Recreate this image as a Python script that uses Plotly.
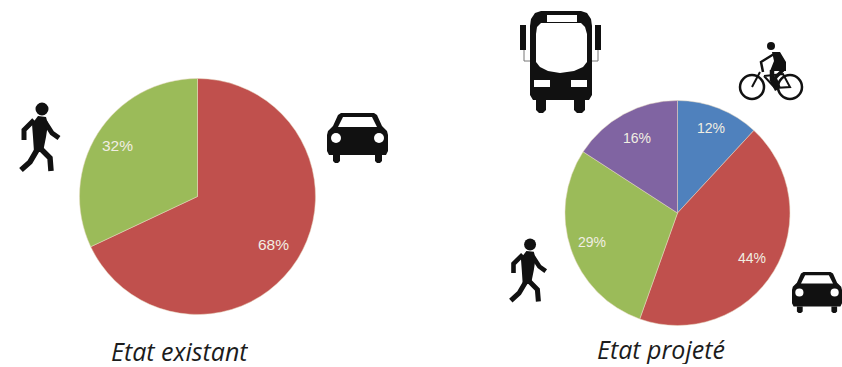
import math
import plotly.graph_objects as go

W, H = 842, 367

# Modal split, in percent
existing_modes = ["Voiture", "Marche"]
existing_values = [68, 32]
existing_colors = ["#c0504d", "#9bbb59"]

projected_modes = ["Vélo", "Voiture", "Marche", "Bus"]
projected_values = [12, 44, 29, 16]
projected_colors = ["#4f81bd", "#c0504d", "#9bbb59", "#8064a2"]

titles = ["Etat existant", "Etat projeté"]

INK = "#111111"
PAPER = "#ffffff"


def pie_domain(cx, cy, r):
    return dict(x=[(cx - r) / W, (cx + r) / W], y=[1 - (cy + r) / H, 1 - (cy - r) / H])


def pie_labels(values, cx, cy, r, fractions, size):
    """Percent labels placed on each slice's bisector, going clockwise from 12 o'clock."""
    total = sum(values)
    notes, run = [], 0
    for v, fraction in zip(values, fractions):
        angle = 2 * math.pi * (run + v / 2) / total
        run += v
        notes.append(dict(
            x=cx + fraction * r * math.sin(angle), y=cy - fraction * r * math.cos(angle),
            xref="x", yref="y", text=f"{v}%", showarrow=False,
            font=dict(family="Liberation Sans", size=size, color="#f1eee2"),
        ))
    return notes


def poly(points, fill=None, width=0, color=INK, close=True):
    d = "M " + " L ".join(f"{x:.1f},{y:.1f}" for x, y in points) + (" Z" if close else "")
    return dict(type="path", path=d, xref="x", yref="y", layer="above",
                fillcolor=fill if fill else "rgba(0,0,0,0)",
                line=dict(color=color, width=width))


def disc(cx, cy, r, fill=INK, width=0, color=INK):
    return dict(type="circle", x0=cx - r, x1=cx + r, y0=cy - r, y1=cy + r,
                xref="x", yref="y", layer="above", fillcolor=fill,
                line=dict(color=color, width=width))


def car(ox, oy, s=1.0):
    t = lambda pts: [(ox + s * x, oy + s * y) for x, y in pts]
    return [
        poly(t([(6, 42), (13, 42), (13, 48), (11, 50), (8, 50), (6, 48)]), INK),
        poly(t([(48, 42), (55, 42), (55, 48), (53, 50), (50, 50), (48, 48)]), INK),
        poly(t([(14, 0), (47, 0), (50, 2), (55, 13), (60, 18), (61, 22), (61, 38), (59, 42),
                (2, 42), (0, 38), (0, 22), (1, 18), (6, 13), (11, 2)]), INK),
        poly(t([(16, 4), (45, 4), (50, 14), (11, 14)]), PAPER),
        disc(ox + s * 9, oy + s * 25, s * 5, PAPER),
        disc(ox + s * 52, oy + s * 25, s * 5, PAPER),
    ]


def walker(ox, oy, s=1.0):
    t = lambda pts: [(ox + s * x, oy + s * y) for x, y in pts]
    w = lambda v: v * s
    return [
        disc(ox + s * 24, oy + s * 7, s * 6.5),
        poly(t([(20, 14), (28, 15), (30, 22), (28, 35), (25, 50), (16, 50), (15, 35), (14, 22)]), INK),
        poly(t([(16, 18), (6, 28), (6, 38)]), width=w(5), close=False),
        poly(t([(27, 20), (34, 31), (41, 36)]), width=w(5), close=False),
        poly(t([(19, 48), (12, 60), (3, 68)]), width=w(5.5), close=False),
        poly(t([(23, 47), (32, 56), (33, 69)]), width=w(5.5), close=False),
    ]


def bus():
    return [
        poly([(524, 50), (524, 61), (531, 61)], width=1, color="#777777", close=False),
        poly([(598, 50), (598, 61), (591, 61)], width=1, color="#777777", close=False),
        poly([(520, 25), (526, 25), (526, 50), (520, 50)], INK),
        poly([(595, 25), (601, 25), (601, 50), (595, 50)], INK),
        poly([(536, 96), (546, 96), (546, 110), (543, 113), (539, 113), (536, 110)], INK),
        poly([(574, 96), (585, 96), (585, 110), (582, 113), (577, 113), (574, 110)], INK),
        poly([(541, 11), (581, 11), (587, 13), (591, 19), (592, 26), (592, 95), (589, 100),
              (533, 100), (530, 95), (530, 26), (531, 19), (535, 13)], INK),
        poly([(541, 23), (581, 23), (585, 27), (587, 34), (587, 62), (583, 67), (574, 71),
              (560, 73), (548, 71), (540, 67), (536, 62), (536, 34), (537, 27)], PAPER),
        poly([(547, 15), (577, 15), (577, 22), (547, 22)], PAPER),
        poly([(534, 80), (550, 80), (550, 87), (534, 87)], PAPER),
        poly([(571, 80), (587, 80), (587, 87), (571, 87)], PAPER),
    ]


def cyclist():
    return [
        disc(771, 46, 4),
        disc(752, 87, 12, "rgba(0,0,0,0)", 2.5),
        disc(790, 87, 12, "rgba(0,0,0,0)", 2.5),
        poly([(772, 52), (780, 52), (786, 62), (786, 71), (770, 71), (774, 61)], INK),
        poly([(774, 54), (761, 62), (763, 72)], width=2.5, close=False),
        poly([(772, 70), (772, 80), (777, 90)], width=4.5, close=False),
        poly([(783, 70), (775, 78), (779, 88)], width=3.5, close=False),
        poly([(760, 72), (752, 87)], width=2, close=False),
        poly([(764, 76), (783, 74), (790, 87), (775, 88), (764, 76)], width=2, close=False),
    ]


fig = go.Figure()
for values, labels, colors, (cx, cy, r) in [
    (existing_values, existing_modes, existing_colors, (197.5, 196.5, 118)),
    (projected_values, projected_modes, projected_colors, (677.5, 213, 112.5)),
]:
    fig.add_trace(go.Pie(
        values=values, labels=labels, sort=False, direction="clockwise", rotation=0,
        marker=dict(colors=colors, line=dict(color="#e6d8c0", width=0.5)),
        textinfo="none", hoverinfo="label+percent", showlegend=False,
        domain=pie_domain(cx, cy, r),
    ))

annotations = (
    pie_labels(existing_values, 197.5, 196.5, 118, (0.76, 0.8), 15.5)
    + pie_labels(projected_values, 677.5, 213, 112.5, (0.81, 0.77, 0.8, 0.76), 14)
)
for text, x, y in zip(titles, (179.5, 660.5), (351, 349)):
    annotations.append(dict(
        x=x, y=y, xref="x", yref="y", text=f"<i>{text}</i>", showarrow=False, height=30,
        font=dict(family="Open Sans", size=25, color="#1c1c1c"),
    ))

shapes = (
    walker(18, 102) + car(327, 113)
    + bus() + cyclist()
    + walker(508, 238, 0.92) + car(792, 272, 0.82)
)

fig.update_layout(
    width=W, height=H, margin=dict(l=0, r=0, t=0, b=0),
    paper_bgcolor=PAPER, plot_bgcolor=PAPER,
    xaxis=dict(range=[0, W], visible=False, fixedrange=True),
    yaxis=dict(range=[H, 0], visible=False, fixedrange=True),
    shapes=shapes, annotations=annotations,
)
fig.write_html("out.html", config=dict(displayModeBar=False))
